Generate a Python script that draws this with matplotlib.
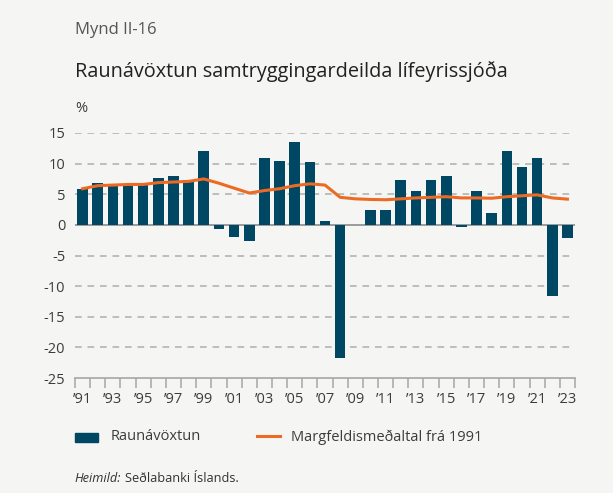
import matplotlib
matplotlib.use("Agg")
import matplotlib.pyplot as plt
from matplotlib.patches import Rectangle
from matplotlib.lines import Line2D
import numpy as np

plt.rcParams['font.family'] = ['Open Sans', 'DejaVu Sans']

# Gögn
ar = list(range(1991, 2024))
raunavoxtun = [5.9, 6.9, 6.5, 6.5, 6.5, 7.7, 7.9, 7.4, 12.0, -0.7, -1.9, -2.7,
               11.0, 10.5, 13.5, 10.2, 0.7, -21.7, -0.1, 2.35, 2.35, 7.4, 5.6,
               7.4, 7.9, -0.3, 5.45, 2.0, 12.0, 9.5, 10.85, -11.6, -2.2]
margfeldi = [5.9, 6.4, 6.5, 6.6, 6.6, 6.9, 7.0, 7.1, 7.5, 6.8, 6.0, 5.2,
             5.6, 5.9, 6.4, 6.7, 6.5, 4.5, 4.25, 4.15, 4.1, 4.25, 4.4,
             4.5, 4.6, 4.4, 4.4, 4.35, 4.6, 4.75, 4.9, 4.4, 4.2]
yticks = [15, 10, 5, 0, -5, -10, -15, -20, -25]

bg = '#f5f5f3'
blar = '#004763'
appelsina = '#ec6b24'
grar = '#a6a6a6'
texti = '#3c3c3c'

W, H = 613, 493
fig = plt.figure(figsize=(W / 100, H / 100), dpi=100, facecolor=bg)
ax = fig.add_axes([75 / W, 1 - 378 / H, 500 / W, 245 / H])
ax.set_facecolor(bg)

x = np.arange(len(ar))
ax.bar(x, raunavoxtun, width=0.7, color=blar, zorder=3)
ax.plot(x, margfeldi, color=appelsina, lw=2.2, zorder=4)

ax.set_xlim(-0.5, len(ar) - 0.5)
ax.set_ylim(-25, 15)

for v in yticks:
    if v == 0:
        ax.axhline(0, color='#8c8c8c', lw=1.2, zorder=2)
    elif v != -25:
        ax.plot([-0.5, len(ar) - 0.8], [v, v], color='#b3b3b3', lw=1.2,
                ls=(0, (4, 3.5)), zorder=1)

for s in ['left', 'right', 'top']:
    ax.spines[s].set_visible(False)
ax.spines['bottom'].set_color(grar)
ax.spines['bottom'].set_linewidth(1.2)

ax.set_yticks(yticks)
ax.set_yticklabels([str(v) for v in yticks])
ax.tick_params(axis='y', length=0, pad=7, labelsize=10.5, labelcolor=texti)

ax.set_xticks(np.arange(-0.5, len(ar), 1), minor=True)
ax.set_xticks(x[::2])
ax.set_xticklabels(['\u2019' + str(a)[2:] for a in ar[::2]])
ax.tick_params(axis='x', which='major', length=0, pad=10, labelsize=10.5,
               labelcolor=texti)
ax.tick_params(axis='x', which='minor', length=7, width=1.1, color=grar)

ax.text(0, 1.07, '%', transform=ax.transAxes, fontsize=10.5, color=texti,
        ha='left', va='bottom')

fig.text(75 / W, 1 - 30 / H, 'Mynd II-16', fontsize=12, color='#555555',
         ha='left', va='center')
fig.text(75 / W, 1 - 72 / H, 'Raunávöxtun samtryggingardeilda lífeyrissjóða',
         fontsize=14.3, color='#222222', ha='left', va='center')

# Skýringar
fig.patches.append(Rectangle((75 / W, 1 - 442 / H), 23 / W, 9 / H,
                             transform=fig.transFigure, color=blar))
fig.text(111 / W, 1 - 437 / H, 'Raunávöxtun', fontsize=10.5, color=texti,
         ha='left', va='center')
fig.lines.append(Line2D([257 / W, 280 / W], [1 - 436 / H, 1 - 436 / H],
                        transform=fig.transFigure, color=appelsina, lw=2.2))
fig.text(291 / W, 1 - 437 / H, 'Margfeldismeðaltal frá 1991', fontsize=10.5,
         color=texti, ha='left', va='center')

fig.text(74 / W, 1 - 478 / H, 'Heimild:', fontsize=9.2, style='italic',
         color='#333333', ha='left', va='center')
fig.text(125 / W, 1 - 478 / H, 'Seðlabanki Íslands.', fontsize=9.2,
         color='#333333', ha='left', va='center')

fig.savefig('out.png', dpi=100, facecolor=bg)
